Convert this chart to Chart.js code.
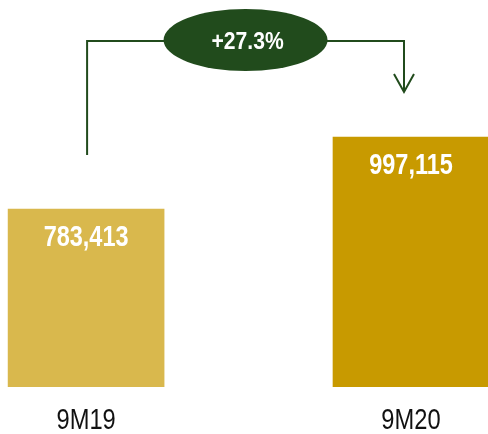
<!DOCTYPE html>
<html>
<head>
<meta charset="utf-8">
<script src="https://cdn.jsdelivr.net/npm/chart.js@4.4.1/dist/chart.umd.min.js"></script>
<style>
  html, body { margin: 0; padding: 0; background: #fff; }
  #wrap { width: 488px; height: 434px; }
</style>
</head>
<body>
<div id="wrap"><canvas id="c" width="488" height="434"></canvas></div>
<script>
// Data
const categories = ['9M19', '9M20'];
const values = [783413, 997115];
const barColors = ['#D9B84D', '#C89A00'];
const green = '#214B1C';

const FONT = "'Liberation Sans', Arial, sans-serif";

// Arial Narrow look-alike: squeeze text horizontally
function narrowText(ctx, text, x, y, font, color, sx) {
  ctx.save();
  ctx.font = font;
  ctx.fillStyle = color;
  ctx.textAlign = 'center';
  ctx.textBaseline = 'middle';
  ctx.translate(x, y);
  ctx.scale(sx, 1);
  ctx.fillText(text, 0, 0);
  ctx.restore();
}

// Bar value labels, category labels + growth connector
const annotate = {
  id: 'annotate',
  afterDatasetsDraw(chart) {
    const { ctx, chartArea } = chart;
    const xs = chart.scales.x;
    const bars = chart.getDatasetMeta(0).data;
    const b0 = bars[0], b1 = bars[1];

    bars.forEach((b, i) => {
      narrowText(ctx, values[i].toLocaleString('en-US'), b.x, b.y + 29, `bold 29px ${FONT}`, '#fff', 0.81);
    });
    categories.forEach((c, i) => {
      narrowText(ctx, c, xs.getPixelForValue(i), chartArea.bottom + 34, `30px ${FONT}`, '#111', 0.79);
    });

    // connector
    const xl = b0.x + 1, xr = b1.x - 7;
    const yTop = 41, yStart = b0.y - 54, yEnd = b1.y - 45;
    ctx.save();
    ctx.strokeStyle = green;
    ctx.lineWidth = 2;
    ctx.beginPath();
    ctx.moveTo(xl, yStart);
    ctx.lineTo(xl, yTop);
    ctx.lineTo(xr, yTop);
    ctx.lineTo(xr, yEnd);
    ctx.stroke();
    ctx.beginPath();
    ctx.moveTo(xr - 10, yEnd - 18);
    ctx.lineTo(xr, yEnd);
    ctx.lineTo(xr + 10, yEnd - 18);
    ctx.stroke();

    // ellipse with growth
    const cx = (xl + xr) / 2, cy = 40;
    ctx.fillStyle = green;
    ctx.beginPath();
    ctx.ellipse(cx, cy, 82, 31, 0, 0, Math.PI * 2);
    ctx.fill();
    ctx.restore();
    const growth = (values[1] / values[0] - 1) * 100;
    narrowText(ctx, `+${growth.toFixed(1)}%`, cx + 2, cy + 2, `bold 24px ${FONT}`, '#fff', 0.88);
  }
};

new Chart(document.getElementById('c'), {
  type: 'bar',
  data: {
    datasets: [{
      data: values.map((v, i) => ({ x: i, y: v })),
      backgroundColor: barColors,
      barThickness: 156,
    }],
  },
  options: {
    responsive: false,
    animation: false,
    layout: { padding: { left: 0, right: 0, top: 0, bottom: 47 } },
    plugins: { legend: { display: false }, tooltip: { enabled: false } },
    scales: {
      x: { type: 'linear', display: false, offset: false, min: -0.265, max: 1.237 },
      y: { display: false, min: 255000, max: 1404000 },
    },
  },
  plugins: [annotate],
});
</script>
</body>
</html>
